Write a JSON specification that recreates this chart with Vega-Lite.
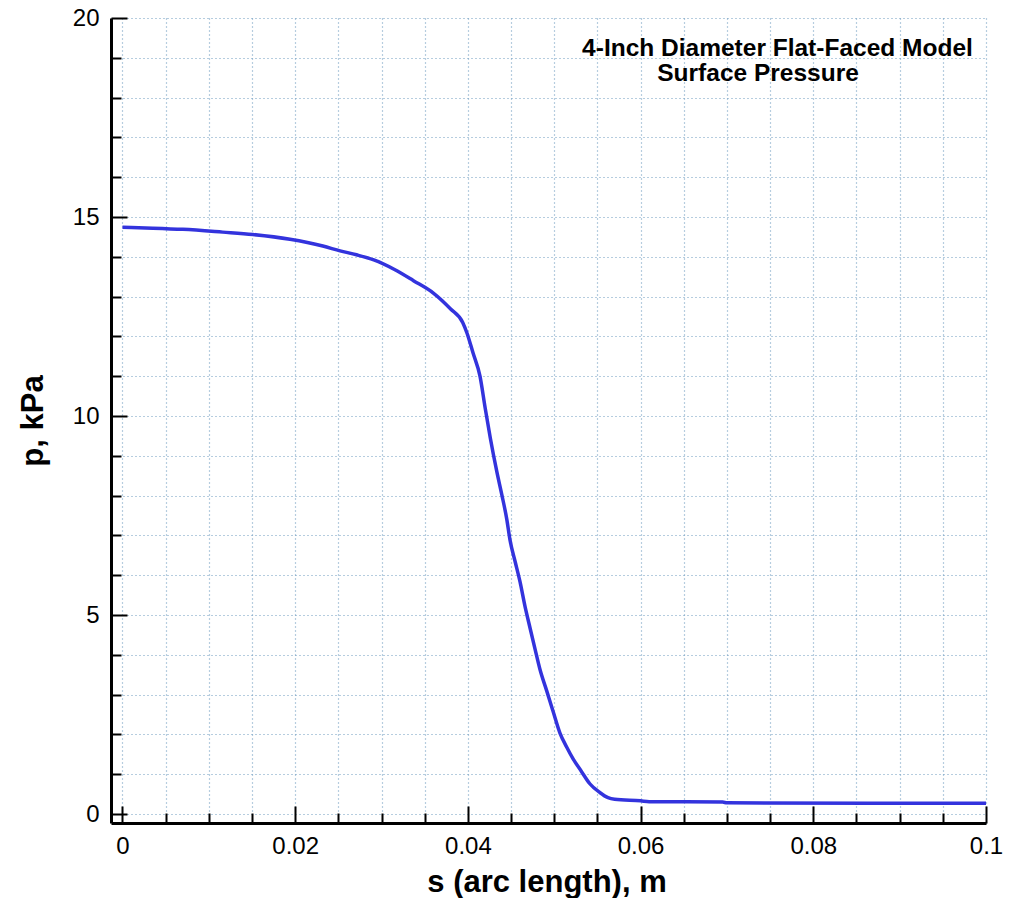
{
  "$schema": "https://vega.github.io/schema/vega-lite/v6.json",
  "autosize": {"type": "none"},
  "padding": {"left": 111, "top": 18, "right": 29, "bottom": 75},
  "width": 875,
  "height": 805,
  "background": "white",
  "config": {
    "view": {"stroke": null},
    "font": "Liberation Sans"
  },
  "layer": [
    {
      "data": {
        "values": [
          {"s": 0, "p": 14.74},
          {"s": 0.0035, "p": 14.72},
          {"s": 0.007, "p": 14.69},
          {"s": 0.0116, "p": 14.62},
          {"s": 0.0151, "p": 14.56},
          {"s": 0.0194, "p": 14.44},
          {"s": 0.0232, "p": 14.27},
          {"s": 0.0252, "p": 14.15},
          {"s": 0.0271, "p": 14.05},
          {"s": 0.0291, "p": 13.92},
          {"s": 0.0315, "p": 13.68},
          {"s": 0.0337, "p": 13.4},
          {"s": 0.036, "p": 13.09},
          {"s": 0.038, "p": 12.69},
          {"s": 0.0394, "p": 12.35},
          {"s": 0.0399, "p": 12.08},
          {"s": 0.0406, "p": 11.58},
          {"s": 0.0414, "p": 11.0},
          {"s": 0.042, "p": 10.2},
          {"s": 0.0426, "p": 9.44},
          {"s": 0.04335, "p": 8.6},
          {"s": 0.04392, "p": 8.03},
          {"s": 0.0445, "p": 7.41},
          {"s": 0.04488, "p": 6.88},
          {"s": 0.04546, "p": 6.35},
          {"s": 0.04604, "p": 5.83},
          {"s": 0.04662, "p": 5.21},
          {"s": 0.04719, "p": 4.68},
          {"s": 0.04777, "p": 4.15},
          {"s": 0.04835, "p": 3.63},
          {"s": 0.04912, "p": 3.1},
          {"s": 0.04988, "p": 2.57},
          {"s": 0.05065, "p": 2.04},
          {"s": 0.05142, "p": 1.69},
          {"s": 0.0522, "p": 1.38},
          {"s": 0.05315, "p": 1.07},
          {"s": 0.05412, "p": 0.76},
          {"s": 0.05527, "p": 0.54},
          {"s": 0.05623, "p": 0.41},
          {"s": 0.057, "p": 0.37},
          {"s": 0.06, "p": 0.33},
          {"s": 0.061, "p": 0.31},
          {"s": 0.0695, "p": 0.3},
          {"s": 0.07, "p": 0.28},
          {"s": 0.1, "p": 0.27}
        ]
      },
      "mark": {"type": "line", "color": "#3333dd", "strokeWidth": 3.5, "interpolate": "monotone"},
      "encoding": {
        "x": {
          "field": "s",
          "type": "quantitative",
          "scale": {"domain": [-0.001331, 0.1], "nice": false, "zero": false},
          "axis": {
            "values": [0, 0.005, 0.01, 0.015, 0.02, 0.025, 0.03, 0.035, 0.04, 0.045, 0.05, 0.055, 0.06, 0.065, 0.07, 0.075, 0.08, 0.085, 0.09, 0.095, 0.1],
            "labelExpr": "abs(datum.value*50 - round(datum.value*50)) < 1e-6 ? format(datum.value, '~g') : ''",
            "labelFlush": false,
            "labelOverlap": false,
            "labelFontSize": 24,
            "labelColor": "black",
            "labelPadding": 28,
            "tickSize": {"condition": {"test": "abs(datum.value*50 - round(datum.value*50)) < 1e-6", "value": -17}, "value": -10},
            "tickColor": "black",
            "tickWidth": 2,
            "domainColor": "black",
            "domainWidth": 3,
            "grid": true,
            "gridColor": "#6f9cbf",
            "gridDash": [1, 3],
            "gridWidth": 1.2,
            "title": "s (arc length), m",
            "titleFontSize": 31,
            "titleFontWeight": "bold",
            "titleColor": "black",
            "titleX": 435.5,
            "titleY": 68,
            "titleAlign": "center",
            "titleBaseline": "alphabetic"
          }
        },
        "y": {
          "field": "p",
          "type": "quantitative",
          "scale": {"domain": [-0.2261, 20], "nice": false, "zero": false},
          "axis": {
            "values": [0, 1, 2, 3, 4, 5, 6, 7, 8, 9, 10, 11, 12, 13, 14, 15, 16, 17, 18, 19, 20],
            "labelExpr": "datum.value % 5 === 0 ? format(datum.value, 'd') : ''",
            "labelOverlap": false,
            "labelFontSize": 24,
            "labelColor": "black",
            "labelPadding": 28,
            "tickSize": {"condition": {"test": "datum.value % 5 === 0", "value": -16}, "value": -10},
            "tickColor": "black",
            "tickWidth": 2,
            "domainColor": "black",
            "domainWidth": 3,
            "grid": true,
            "gridColor": "#6f9cbf",
            "gridDash": [1, 3],
            "gridWidth": 1.2,
            "title": "p, kPa",
            "titleFontSize": 31,
            "titleFontWeight": "bold",
            "titleColor": "black",
            "titleX": -69,
            "titleY": 402.5,
            "titleAngle": -90,
            "titleAlign": "center",
            "titleBaseline": "alphabetic"
          }
        }
      }
    },
    {
      "data": {"values": [{"label": "4-Inch Diameter Flat-Faced Model"}]},
      "mark": {"type": "text", "fontSize": 24.5, "fontWeight": "bold", "font": "Liberation Sans", "align": "center", "baseline": "alphabetic", "color": "black"},
      "encoding": {
        "x": {"datum": 0.07585, "type": "quantitative"},
        "y": {"datum": 19.045, "type": "quantitative"},
        "text": {"field": "label"}
      }
    },
    {
      "data": {"values": [{"label": "Surface Pressure"}]},
      "mark": {"type": "text", "fontSize": 24.5, "fontWeight": "bold", "font": "Liberation Sans", "align": "center", "baseline": "alphabetic", "color": "black"},
      "encoding": {
        "x": {"datum": 0.0736, "type": "quantitative"},
        "y": {"datum": 18.41, "type": "quantitative"},
        "text": {"field": "label"}
      }
    }
  ]
}
